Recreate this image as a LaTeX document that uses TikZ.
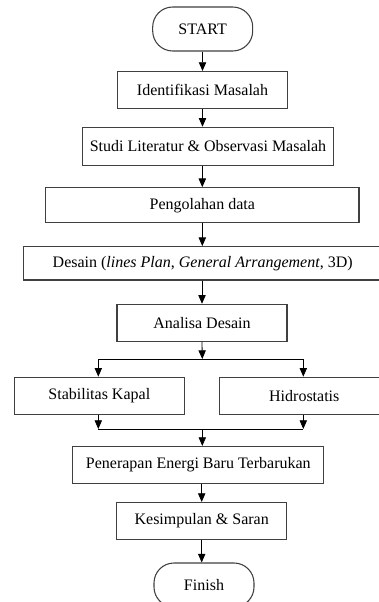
\documentclass[tikz,border=0pt]{standalone}
\usepackage{fontspec}
\setmainfont{Liberation Serif}
\usetikzlibrary{arrows.meta, positioning}

\begin{document}
\begin{tikzpicture}[x=0.75pt,y=0.75pt,yscale=-1,xscale=1,
  font=\fontsize{12}{14}\selectfont,
  stepbox/.style={draw=black!75, line width=0.8pt, fill=white, inner sep=0pt,
    minimum width=127.5pt, minimum height=27.75pt},
  endbox/.style={stepbox, rounded corners=15pt, minimum width=75pt, minimum height=33pt},
  flow/.style={draw=black, line width=0.6pt, -{Triangle[width=5.5pt,length=6.5pt]}},
  joint/.style={draw=black, line width=0.6pt}]
\useasboundingbox (0,0) rectangle (378,602);

%Shape: Rounded Rect
\node[endbox] (start) at (202.7,29) {START};
%Shape: Rectangle
\node[stepbox] (ident) at (202.5,90) {Identifikasi Masalah};
\node[stepbox, minimum width=188pt, minimum height=28.8pt] (studi) at (208,146.5) {Studi Literatur \& Observasi Masalah};
\node[stepbox, minimum width=235pt, minimum height=26.25pt] (olah) at (202.3,205.2) {Pengolahan data};
\node[stepbox, minimum width=269pt, minimum height=25pt] (desain) at (202.7,263.3) {Desain (\textit{lines Plan}, \textit{General Arrangement}, 3D)};
\node[stepbox] (analisa) at (202,322.8) {Analisa Desain};
\node[stepbox] (stab) at (99.3,395.7) {Stabilitas Kapal};
\node[stepbox] (hidro) at (304.3,395.7) {Hidrostatis};
\node[stepbox, minimum width=188.25pt] (terap) at (198.3,465) {Penerapan Energi Baru Terbarukan};
\node[stepbox] (simpul) at (201.7,521) {Kesimpulan \& Saran};
%Shape: Rounded Rect
\node[endbox] (finish) at (204,585) {Finish};

%Straight Lines
\coordinate (split) at (202.3,359);
\coordinate (splitL) at (98.3,359);
\coordinate (splitR) at (303.3,359);
\coordinate (merge) at (202.3,429);
\coordinate (mergeL) at (98.3,429);
\coordinate (mergeR) at (303.3,429);

\draw[flow] (start.south -| ident.north) -- (ident.north);
\draw[flow] (ident.south) -- (ident.south |- studi.north);
\draw[flow] (olah.north |- studi.south) -- (olah.north);
\draw[flow] (olah.south) -- (olah.south |- desain.north);
\draw[flow] (desain.south -| analisa.north) -- (analisa.north);
\draw[flow] (analisa.south) -- (split);
\draw[joint] (splitL) -- (splitR);
\draw[flow] (splitL) -- (splitL |- stab.north);
\draw[flow] (splitR) -- (splitR |- hidro.north);
\draw[flow] (splitL |- stab.south) -- (mergeL);
\draw[flow] (splitR |- hidro.south) -- (mergeR);
\draw[joint] (mergeL) -- (mergeR);
\draw[flow] (merge) -- (merge |- terap.north);
\draw[flow] (simpul.north |- terap.south) -- (simpul.north);
\draw[flow] (simpul.south) -- (simpul.south |- finish.north);

\end{tikzpicture}
\end{document}
